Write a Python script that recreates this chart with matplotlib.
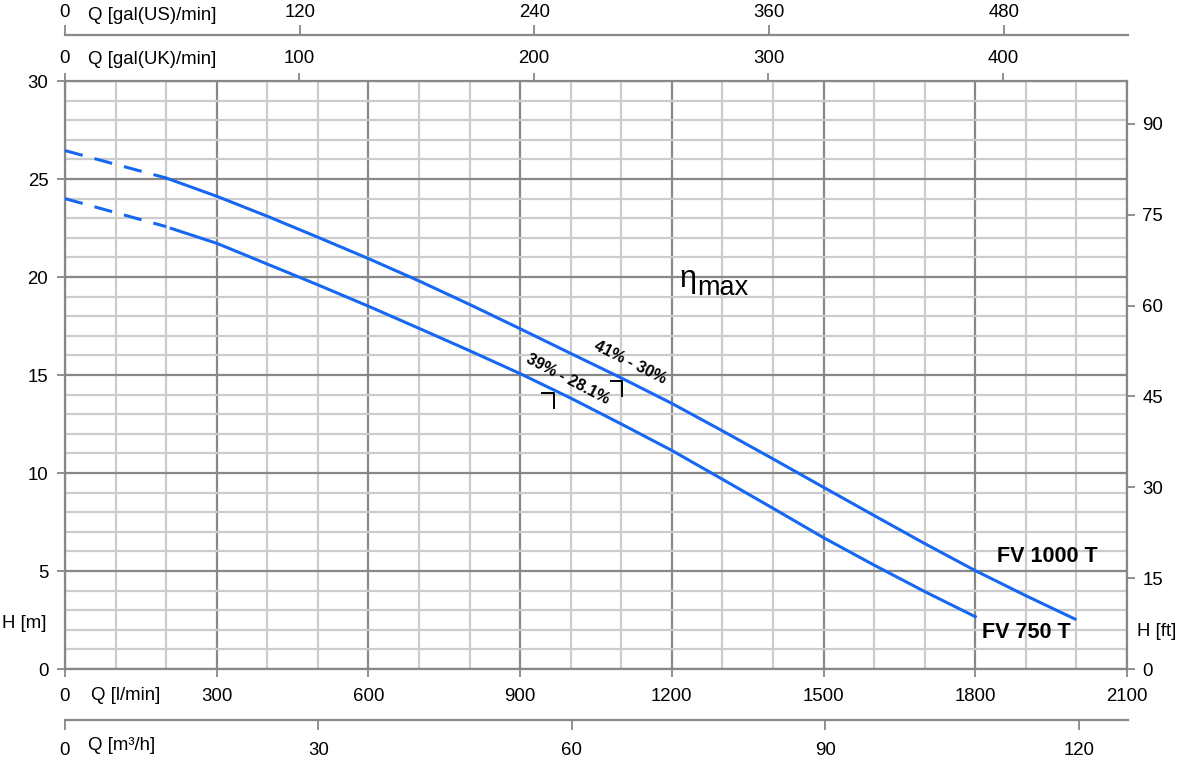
import numpy as np
import matplotlib
matplotlib.use("Agg")
import matplotlib.pyplot as plt
from matplotlib.ticker import MultipleLocator

plt.rcParams['font.family'] = ['Liberation Sans', 'DejaVu Sans']

# pump curves, Q in l/min, H in m
q_1000_dash = [0, 200]
h_1000_dash = [26.45, 25.05]
q_1000 = [200, 300, 400, 500, 600, 700, 800, 900, 1000, 1100, 1200, 1300, 1400,
          1500, 1600, 1700, 1800, 1900, 1997]
h_1000 = [25.05, 24.12, 23.1, 22.03, 20.94, 19.8, 18.6, 17.36, 16.1, 14.85, 13.55, 12.15, 10.72,
          9.27, 7.83, 6.4, 5.02, 3.74, 2.55]

q_750_dash = [0, 200]
h_750_dash = [24.0, 22.57]
q_750 = [210, 300, 400, 500, 600, 700, 800, 900, 1000, 1100, 1200, 1300, 1400,
         1500, 1600, 1700, 1800]
h_750 = [22.48, 21.72, 20.66, 19.6, 18.51, 17.38, 16.24, 15.07, 13.82, 12.5, 11.15, 9.68, 8.2,
         6.7, 5.3, 3.95, 2.67]

# best efficiency point brackets: corner (q, h), arm lengths
bep_q = [966, 1101]
bep_h = [14.09, 14.68]
bep_dq = 22
bep_dh = 0.76
bep_text = ["39% - 28.1%", "41% - 30%"]

lmin_ticks = [0, 300, 600, 900, 1200, 1500, 1800, 2100]
m3h_ticks = [0, 30, 60, 90, 120]
uk_ticks = [0, 100, 200, 300, 400]
us_ticks = [0, 120, 240, 360, 480]
m_ticks = [0, 5, 10, 15, 20, 25, 30]
ft_ticks = [0, 15, 30, 45, 60, 75, 90]

W, H = 1181, 762
blue = '#1668f2'
gray = '#888888'
light = '#cccccc'
fs = 13.4

fig = plt.figure(figsize=(W / 100, H / 100), dpi=100)
L, R, T, B = 65, 1127, 81, 669
ax = fig.add_axes([L / W, 1 - B / H, (R - L) / W, (B - T) / H])
ax.set_xlim(0, 2100)
ax.set_ylim(0, 30)

ax.xaxis.set_minor_locator(MultipleLocator(100))
ax.yaxis.set_minor_locator(MultipleLocator(1))
ax.set_xticks(lmin_ticks)
ax.set_yticks(m_ticks)
ax.grid(which='minor', color=light, lw=1.6, zorder=0)
ax.grid(which='major', color=gray, lw=1.6, zorder=0)
ax.set_axisbelow(True)
for s in ax.spines.values():
    s.set_color(gray)
    s.set_linewidth(1.6)
ax.tick_params(which='minor', length=0)
ax.tick_params(which='major', length=6, width=1.3, color=gray, labelsize=fs, pad=8)
ax.tick_params(axis='y', pad=6)

# curves
ax.plot(q_1000_dash, h_1000_dash, color=blue, lw=2.2, dashes=(6, 4), zorder=3)
ax.plot(q_1000, h_1000, color=blue, lw=2.2, zorder=3)
ax.plot(q_750_dash, h_750_dash, color=blue, lw=2.2, dashes=(6, 4), zorder=3)
ax.plot(q_750, h_750, color=blue, lw=2.2, zorder=3)

for q, h in zip(bep_q, bep_h):
    ax.plot([q - bep_dq, q, q], [h, h, h - bep_dh], color='black', lw=1.4, zorder=4)

ax.text(995, 14.77, bep_text[0], rotation=-27.5, ha='center', va='center',
        fontsize=11.5, fontweight='bold')
ax.text(1117, 15.64, bep_text[1], rotation=-26.5, ha='center', va='center',
        fontsize=11.5, fontweight='bold')

ax.text(1843, 5.72, 'FV 1000 T', fontsize=15.5, fontweight='bold', va='center')
ax.text(1813, 1.84, 'FV 750 T', fontsize=15.5, fontweight='bold', va='center')

ax.text(1214, 19.47, '\u03b7', fontsize=22, va='baseline')
ax.text(1250, 19.1, 'max', fontsize=19.5, va='baseline')

# top: gal(UK)/min
uk = ax.secondary_xaxis('top', functions=(lambda x: x * 452.9 / 2100, lambda g: g * 2100 / 452.9))
uk.set_xticks(uk_ticks)
uk.tick_params(length=6, width=1.3, color=gray, labelsize=fs, pad=4)
uk.spines['top'].set_visible(False)

# right: H in ft
ft = ax.secondary_yaxis('right', functions=(lambda m: m * 97.1 / 30, lambda f: f * 30 / 97.1))
ft.set_yticks(ft_ticks)
ft.tick_params(length=6, width=1.3, color=gray, labelsize=fs, pad=5)
ft.spines['right'].set_visible(False)

# top: gal(US)/min
ax_us = fig.add_axes([L / W, 1 - 35 / H, (R + 1 - L) / W, 0.0001])
ax_us.set_facecolor('none')
ax_us.set_xlim(0, 543.5)
for k, s in ax_us.spines.items():
    s.set_visible(k == 'top')
ax_us.spines['top'].set_color(gray)
ax_us.spines['top'].set_linewidth(1.6)
ax_us.xaxis.tick_top()
ax_us.set_xticks(us_ticks)
ax_us.set_yticks([])
ax_us.tick_params(length=7, width=1.3, color=gray, labelsize=fs, pad=3)

# bottom: m3/h
ax_m3 = fig.add_axes([L / W, 1 - 720 / H, (R + 1 - L) / W, 0.0001])
ax_m3.set_facecolor('none')
ax_m3.set_xlim(0, 125.8)
for k, s in ax_m3.spines.items():
    s.set_visible(k == 'bottom')
ax_m3.spines['bottom'].set_color(gray)
ax_m3.spines['bottom'].set_linewidth(1.6)
ax_m3.set_xticks(m3h_ticks)
ax_m3.set_yticks([])
ax_m3.tick_params(length=7, width=1.3, color=gray, labelsize=fs, pad=9)

# axis titles
fig.text(88 / W, 1 - 16 / H, 'Q [gal(US)/min]', fontsize=fs, va='center')
fig.text(88 / W, 1 - 60 / H, 'Q [gal(UK)/min]', fontsize=fs, va='center')
fig.text(91 / W, 1 - 696 / H, 'Q [l/min]', fontsize=fs, va='center')
fig.text(88 / W, 1 - 745 / H, 'Q [m\u00b3/h]', fontsize=fs, va='center')
fig.text(2 / W, 1 - 623 / H, 'H [m]', fontsize=fs, va='center')
fig.text(1137 / W, 1 - 632 / H, 'H [ft]', fontsize=fs, va='center')

fig.savefig('out.png', dpi=100, facecolor='white')
